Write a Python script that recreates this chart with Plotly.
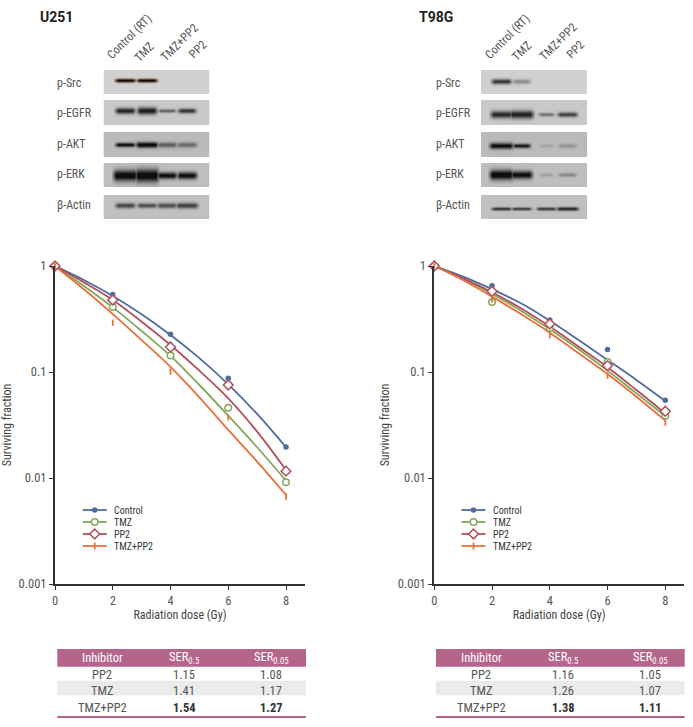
import numpy as np
import plotly.graph_objects as go

W, H = 693, 727
FONT = "Roboto Condensed, Liberation Sans Narrow, Roboto, sans-serif"
TXT = "#555555"

# ---- data ----
doses_pts = [0, 2, 4, 6, 8]
doses_fit = [0, 1, 2, 3, 4, 5, 6, 7, 8]
series = ["Control", "TMZ", "PP2", "TMZ+PP2"]

u251_control_pts = [1, 0.537, 0.227, 0.0871, 0.0196]
u251_tmz_pts = [1, 0.410, 0.143, 0.0461, 0.0091]
u251_pp2_pts = [1, 0.478, 0.172, 0.0754, 0.0116]
u251_combo_pts = [1, 0.292, 0.101, 0.0373, 0.00667]
u251_control_fit = [1, 0.738, 0.521, 0.350, 0.223, 0.135, 0.0765, 0.0402, 0.0195]
u251_tmz_fit = [1, 0.647, 0.407, 0.244, 0.142, 0.0754, 0.0387, 0.0195, 0.00944]
u251_pp2_fit = [1, 0.701, 0.478, 0.298, 0.180, 0.103, 0.0565, 0.0274, 0.0119]
u251_combo_fit = [1, 0.603, 0.352, 0.200, 0.112, 0.0577, 0.0284, 0.0143, 0.00692]

t98g_control_pts = [1, 0.652, 0.310, 0.163, 0.0541]
t98g_tmz_pts = [1, 0.457, 0.260, 0.124, 0.0387]
t98g_pp2_pts = [1, 0.577, 0.284, 0.115, 0.0426]
t98g_combo_pts = [1, 0.484, 0.222, 0.0923, 0.0333]
t98g_control_fit = [1, 0.793, 0.603, 0.445, 0.305, 0.200, 0.130, 0.0841, 0.0532]
t98g_tmz_fit = [1, 0.754, 0.545, 0.379, 0.253, 0.164, 0.103, 0.0629, 0.0385]
t98g_pp2_fit = [1, 0.765, 0.565, 0.399, 0.268, 0.173, 0.111, 0.0676, 0.0407]
t98g_combo_fit = [1, 0.733, 0.514, 0.352, 0.235, 0.150, 0.0957, 0.0585, 0.0348]

y_ticks = [1, 0.1, 0.01, 0.001]
y_tick_labels = ["1", "0.1", "0.01", "0.001"]
x_ticks = [0, 2, 4, 6, 8]

lanes = ["Control (RT)", "TMZ", "TMZ+PP2", "PP2"]
proteins = ["p-Src", "p-EGFR", "p-AKT", "p-ERK", "β-Actin"]
# band darkness per lane, per protein
u251_bands = [[0.95, 0.95, 0, 0], [0.8, 0.85, 0.5, 0.72], [0.92, 1, 0.5, 0.42], [1, 1, 0.92, 0.92], [0.62, 0.58, 0.58, 0.66]]
t98g_bands = [[0.72, 0.32, 0, 0], [0.78, 0.82, 0.42, 0.66], [0.92, 0.85, 0.12, 0.22], [1, 0.92, 0.16, 0.28], [0.72, 0.66, 0.68, 0.78]]

table_header = ["Inhibitor", "SER<sub>0.5</sub>", "SER<sub>0.05</sub>"]
table_inhibitors = ["PP2", "TMZ", "TMZ+PP2"]
u251_ser05 = ["1.15", "1.41", "1.54"]
u251_ser005 = ["1.08", "1.17", "1.27"]
t98g_ser05 = ["1.16", "1.26", "1.38"]
t98g_ser005 = ["1.05", "1.07", "1.11"]

# ---- styles ----
COL = {"Control": "#4f6c9e", "TMZ": "#82a75c", "PP2": "#b0505f", "TMZ+PP2": "#e8703a"}
MARK = {
    "Control": dict(symbol="circle", size=5.5, color=COL["Control"]),
    "TMZ": dict(symbol="circle", size=6.5, color="white", line=dict(color=COL["TMZ"], width=1.5)),
    "PP2": dict(symbol="diamond", size=7.5, color="white", line=dict(color=COL["PP2"], width=1.5)),
    "TMZ+PP2": dict(symbol="line-ns", size=4.5, color=COL["TMZ+PP2"], line=dict(color=COL["TMZ+PP2"], width=1.8)),
}
HEAD = "#b5648a"
AXC = "#333333"


def px(x):
    return x / W


def py(y):
    return 1 - y / H


fig = go.Figure()


def axes(n, x0, x1, y0=266, y1=584):
    common_x = dict(
        domain=[px(x0), px(x1)], range=[0, 8 * (x1 - x0) / (286 - 55)], tickvals=x_ticks,
        ticks="outside", ticklen=4, tickwidth=1.2, tickcolor=AXC, showgrid=False, zeroline=False,
        showline=True, linecolor=AXC, linewidth=2, tickfont=dict(family=FONT, size=12.5, color=TXT),
        title=dict(text="Radiation dose (Gy)", font=dict(family=FONT, size=12, color="#444"), standoff=4),
        anchor=f"y{n}", automargin=False,
    )
    common_y = dict(
        domain=[py(y1), py(y0)], type="log", range=[-3, 0], tickvals=y_ticks, ticktext=y_tick_labels,
        ticks="outside", ticklen=4, tickwidth=1.2, tickcolor=AXC, showgrid=False, zeroline=False,
        showline=True, linecolor=AXC, linewidth=2, tickfont=dict(family=FONT, size=12.5, color=TXT),
        title=dict(text="Surviving fraction", font=dict(family=FONT, size=12, color="#444"), standoff=6),
        anchor=f"x{n}", automargin=False,
    )
    fig.layout[f"xaxis{n}"] = common_x
    fig.layout[f"yaxis{n}"] = common_y


axes(1, 55, 305)
axes(2, 434.3, 684)


def curves(n, fits, pts):
    for s, f, p in zip(series, fits, pts):
        fig.add_trace(go.Scatter(x=doses_fit, y=f, mode="lines", line=dict(color=COL[s], width=1.8, shape="spline"),
                                 xaxis=f"x{n}", yaxis=f"y{n}", showlegend=False, cliponaxis=False, hoverinfo="skip"))
    for s, f, p in zip(series, fits, pts):
        fig.add_trace(go.Scatter(x=doses_pts, y=p, mode="markers", marker=MARK[s], name=s,
                                 xaxis=f"x{n}", yaxis=f"y{n}", showlegend=False, cliponaxis=False))


curves(1, [u251_control_fit, u251_tmz_fit, u251_pp2_fit, u251_combo_fit],
       [u251_control_pts, u251_tmz_pts, u251_pp2_pts, u251_combo_pts])
curves(2, [t98g_control_fit, t98g_tmz_fit, t98g_pp2_fit, t98g_combo_fit],
       [t98g_control_pts, t98g_tmz_pts, t98g_pp2_pts, t98g_combo_pts])

# ---- page-pixel overlay axis for legends ----
fig.layout["xaxis3"] = dict(domain=[0, 1], range=[0, W], visible=False, fixedrange=True, anchor="y3")
fig.layout["yaxis3"] = dict(domain=[0, 1], range=[H, 0], visible=False, fixedrange=True, anchor="x3")

annos, shapes = [], []


def legend(x0):
    for i, s in enumerate(series):
        y = 510 + 12 * i
        fig.add_trace(go.Scatter(x=[x0, x0 + 24], y=[y, y], mode="lines", line=dict(color=COL[s], width=1.8),
                                 xaxis="x3", yaxis="y3", showlegend=False, hoverinfo="skip"))
        mk = dict(MARK[s])
        if s == "TMZ+PP2":
            mk["size"] = 5
        fig.add_trace(go.Scatter(x=[x0 + 12], y=[y], mode="markers", marker=mk,
                                 xaxis="x3", yaxis="y3", showlegend=False, hoverinfo="skip"))
        annos.append(dict(x=px(x0 + 29.5), y=py(y), xref="paper", yref="paper", text=s, showarrow=False, xanchor="left",
                          yanchor="middle", font=dict(family=FONT, size=10, color="#333")))


legend(82.7)
legend(461.5)

# ---- blots (rendered band images) ----
PANEL_Y = [(70, 94), (100, 125), (132, 157), (163, 187), (195, 219)]
PANEL_BG = [208, 200, 186, 190, 192]


def blot(n, x0, bands, lane_cx, band_y, sigmas, halfw, brown=False):
    w, h = 106, 150
    img = np.full((h, w, 3), 255.0)
    yy, xx = np.mgrid[0:h, 0:w]
    yy = yy + 70 + 0.5
    xx = xx + x0 + 0.5
    for k, (ya, yb) in enumerate(PANEL_Y):
        bg = PANEL_BG[k]
        dark = np.zeros((h, w))
        for j, a in enumerate(bands[k]):
            if a <= 0:
                continue
            sy = sigmas[k][j]
            ex = np.clip((halfw[k][j] - np.abs(xx - lane_cx[j])) / 5, 0, 1)
            dark = np.maximum(dark, a * np.exp(-((yy - band_y[k]) / sy) ** 2) * ex)
        dark = np.clip(dark * 1.1, 0, 1)
        val = bg * (1 - dark) + 14 * dark
        mask = (yy >= ya) & (yy < yb)
        for c in range(3):
            v = val
            if brown and k == 0:
                tint = {0: 1.0, 1: 0.78, 2: 0.58}[c]
                rim = np.clip(1 - np.abs(dark - 0.5) * 2, 0, 1)
                v = val * (1 - rim) + val * tint * rim
            img[..., c][mask] = v[mask]
    fig.add_trace(go.Image(z=np.round(img).astype(np.uint8), x0=x0 + 0.5, y0=70.5, dx=1, dy=1,
                           xaxis=f"x{n}", yaxis=f"y{n}", hoverinfo="skip"))
    fig.layout[f"xaxis{n}"] = dict(domain=[px(x0), px(x0 + w)], range=[x0, x0 + w], visible=False, anchor=f"y{n}")
    fig.layout[f"yaxis{n}"] = dict(domain=[py(70 + h), py(70)], range=[70 + h, 70], visible=False, anchor=f"x{n}")


blot(4, 103.5, u251_bands, [125, 146.7, 166.7, 186.7], [80.7, 111, 145, 175.7, 205.7],
     [[1.7] * 4, [3, 3.6, 1.8, 2.4], [2.2, 2.8, 2.6, 2.6], [5.5, 6.5, 3.4, 3.6], [2.6, 2.4, 2.6, 2.8]],
     [[12, 12, 0, 0], [12, 12, 11, 11], [12, 13, 12, 12], [14, 14, 12, 12], [12, 12, 12, 13]], brown=True)
blot(5, 481, t98g_bands, [501.7, 521.7, 546.7, 567.7], [81.7, 114.7, 146, 175, 209],
     [[2.6, 2.4, 1, 1], [3.6, 4, 1.9, 2.4], [3, 2.2, 1.8, 2], [5, 4, 1.8, 2], [1.7, 1.6, 1.7, 1.9]],
     [[12, 11, 0, 0], [13, 14, 10, 12], [14, 11, 9, 11], [14, 13, 9, 11], [12, 12, 12, 13]])

# ---- blot texts ----
for x_title, title in [(38, "U251"), (417, "T98G")]:
    annos.append(dict(x=px(x_title), y=py(17.5), xref="paper", yref="paper", text=f"<b>{title}</b>", showarrow=False,
                      xanchor="left", yanchor="middle", font=dict(family="Roboto, sans-serif", size=14, color="#222")))

LABEL_Y = [83, 113.5, 144, 174.5, 205]
for x_lab, names in [(55, proteins), (433.5, proteins)]:
    for y, t in zip(LABEL_Y, names):
        annos.append(dict(x=px(x_lab), y=py(y), xref="paper", yref="paper", text=t, showarrow=False, xanchor="left",
                          yanchor="middle", font=dict(family=FONT, size=12, color=TXT)))

LANE_POS = {
    0: [(129, 37), (144, 51.5), (180, 42), (197, 49.5)],
    1: [(507, 37), (522, 51), (558, 42), (575, 50)],
}
for side in LANE_POS:
    for (x, y), t in zip(LANE_POS[side], lanes):
        annos.append(dict(x=px(x), y=py(y), xref="paper", yref="paper", text=t, showarrow=False, textangle=-45,
                          xanchor="center", yanchor="middle", font=dict(family=FONT, size=12, color=TXT)))


# ---- SER tables ----
def table(x0, x1, cols, col2, col3):
    shapes.append(dict(type="rect", xref="paper", yref="paper", x0=px(x0), x1=px(x1), y0=py(649), y1=py(666.7),
                       fillcolor=HEAD, line_width=0, layer="below"))
    shapes.append(dict(type="rect", xref="paper", yref="paper", x0=px(x0), x1=px(x1), y0=py(680.7), y1=py(695.3),
                       fillcolor="#ebebeb", line_width=0, layer="below"))
    shapes.append(dict(type="rect", xref="paper", yref="paper", x0=px(x0), x1=px(x1), y0=py(716), y1=py(718),
                       fillcolor=HEAD, line_width=0, layer="below"))
    for cx, t in zip(cols, table_header):
        annos.append(dict(x=px(cx), y=py(657.5), xref="paper", yref="paper", text=t, showarrow=False,
                          xanchor="center", yanchor="middle", font=dict(family=FONT, size=12.5, color="white")))
    for i, y in enumerate([674, 690.5, 707.5]):
        for cx, t in zip(cols, [table_inhibitors[i], col2[i], col3[i]]):
            bold = i == 2 and cx != cols[0]
            annos.append(dict(x=px(cx), y=py(y), xref="paper", yref="paper", text=f"<b>{t}</b>" if bold else t,
                              showarrow=False, xanchor="center", yanchor="middle",
                              font=dict(family=FONT, size=12.5, color="#333" if bold else TXT)))


table(57.3, 306, [102, 184, 271], u251_ser05, u251_ser005)
table(436, 684.7, [481, 563, 650], t98g_ser05, t98g_ser005)

fig.update_layout(width=W, height=H, margin=dict(l=0, r=0, t=0, b=0, autoexpand=False), autosize=False,
                  paper_bgcolor="white", plot_bgcolor="rgba(0,0,0,0)", showlegend=False,
                  annotations=annos, shapes=shapes)
fig.write_html("out.html", config={"displayModeBar": False},
               post_script="document.body.style.margin='0';document.documentElement.style.overflow='hidden';")
